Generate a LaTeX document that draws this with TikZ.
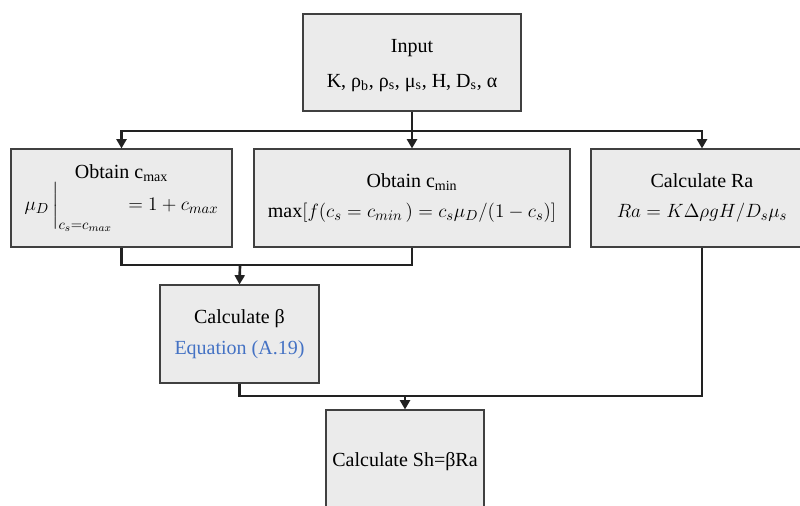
\documentclass[tikz,border=0pt]{standalone}
\usepackage{amsmath}
\usepackage{fontspec}
\setmainfont{Liberation Serif}
\usepackage{xcolor}
\usetikzlibrary{arrows.meta,positioning,calc}
\definecolor{BoxFill}{RGB}{235,235,235}
\definecolor{BoxLine}{RGB}{64,64,64}
\definecolor{FlowLine}{RGB}{34,34,34}
\definecolor{EqBlue}{RGB}{68,114,196}

\begin{document}
\begin{tikzpicture}[
    x=0.75pt,y=-0.75pt,
    stepbox/.style={draw=BoxLine, line width=0.8pt, fill=BoxFill, align=center, inner sep=0pt, font=\fontsize{15}{22}\selectfont},
    link/.style={line width=2pt, draw=FlowLine},
    arrow/.style={link, -{Triangle[length=7pt,width=7.5pt]}}
  ]
    \useasboundingbox (0,0) rectangle (800,506);
    \node[stepbox, minimum width=163.5pt, minimum height=72.75pt] (input) at (412,62.5) {\\[-8pt]Input\\[4pt]K, ρ\textsubscript{b}, ρ\textsubscript{s}, μ\textsubscript{s}, H, D\textsubscript{s}, α};
    \node[stepbox, minimum width=165.75pt, minimum height=73.5pt] (cmax) at (121.5,198) {Obtain c\textsubscript{max}\\[0pt]$\mu_D\,\bigg|_{\text{\fontsize{11}{11}\selectfont$c_s{=}c_{max}$}}\;\;= 1 + c_{max}$};
    \node[stepbox, minimum width=237pt, minimum height=73.5pt] (cmin) at (412,198) {Obtain c\textsubscript{min}\\$\max[f(c_s = c_{min}\,) = c_s\mu_D/(1-c_s)]$};
    \node[stepbox, minimum width=166.5pt, minimum height=73.5pt] (ra) at (702,198) {Calculate Ra\\$Ra = K\Delta\rho gH/D_s\mu_s$};
    \node[stepbox, minimum width=119.25pt, minimum height=73.5pt] (beta) at (239.5,334) {Calculate β\\[1pt]\textcolor{EqBlue}{Equation (A.19)}};
    \node[stepbox, minimum width=118.5pt, minimum height=78pt] (sh) at (405,462) {Calculate Sh=βRa};
    \coordinate (split) at (412,131);
    \coordinate (merge) at (240,265);
    \coordinate (final) at (405,396);
    \draw[link] (input.south) -- (split);
    \foreach \to in {cmax,ra} {
      \draw[arrow] (split) -| (\to.north);
    }
    \draw[arrow] (split) -- (cmin.north);
    \foreach \from in {cmax,cmin} {
      \draw[link] (\from.south) |- (merge);
    }
    \draw[arrow] (merge) -- (beta.north);
    \foreach \from in {beta,ra} {
      \draw[link] (\from.south) |- (final);
    }
    \draw[arrow] (final) -- (sh.north);
  \end{tikzpicture}
\end{document}
